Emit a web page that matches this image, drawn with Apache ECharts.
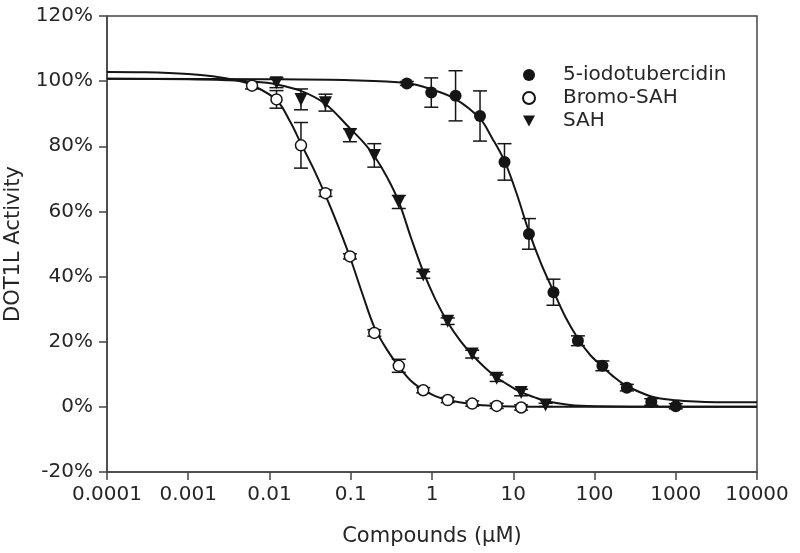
<!DOCTYPE html>
<html>
<head>
<meta charset="utf-8">
<script src="https://cdn.jsdelivr.net/npm/echarts@6/dist/echarts.min.js"></script>
<style>html,body{margin:0;padding:0;background:#fff}#c{width:800px;height:553px}</style>
</head>
<body>
<div id="c"></div>
<script>
// ---- data ----
const xTickLabels = ['0.0001','0.001','0.01','0.1','1','10','100','1000','10000'];

const iodoConc = [0.49, 0.98, 1.95, 3.9, 7.8, 15.6, 31.25, 62.5, 125, 250, 500, 1000];
const iodoAct  = [99.3, 96.5, 95.5, 89.3, 75.2, 53.1, 35.2, 20.3, 12.6, 5.9, 1.5, 0.2];
const iodoErr  = [0.6, 4.5, 7.7, 7.7, 5.6, 4.7, 4.0, 1.5, 1.5, 1.0, 1.0, 0.8];

const bromoConc = [0.0061, 0.0122, 0.0244, 0.0488, 0.0977, 0.195, 0.39, 0.78, 1.56, 3.125, 6.25, 12.5];
const bromoAct  = [98.6, 94.4, 80.3, 65.6, 46.2, 22.7, 12.6, 5.1, 2.1, 1.0, 0.3, -0.2];
const bromoErr  = [1.0, 2.7, 7.0, 1.0, 0.8, 1.0, 2.0, 0.8, 0.8, 0.8, 0.8, 0.8];

const sahConc = [0.0122, 0.0244, 0.0488, 0.0977, 0.195, 0.39, 0.78, 1.56, 3.125, 6.25, 12.5, 25];
const sahAct  = [99.5, 94.4, 93.4, 83.4, 77.2, 62.9, 40.5, 26.3, 16.2, 8.8, 4.4, 0.6];
const sahErr  = [1.5, 3.2, 2.6, 2.0, 3.6, 2.0, 1.0, 1.0, 1.2, 1.0, 1.0, 0.5];

// fitted curves
const iodoCurveX = [0.0001, 0.01, 0.1, 0.49, 0.98, 1.95, 3.9, 5.5, 7.8, 11, 15.6, 22, 31.25, 44, 62.5, 88, 125, 177, 250, 500, 1000, 2000, 4000, 10000];
const iodoCurveY = [100.7, 100.6, 100.3, 99.4, 97.5, 94.5, 88.5, 82.5, 75.5, 65.5, 53.8, 44, 35.5, 27.5, 21, 16, 12.4, 9, 6.4, 3.2, 2.0, 1.6, 1.45, 1.4];

const bromoCurveX = [0.0001, 0.0003, 0.001, 0.002, 0.004, 0.0061, 0.0122, 0.018, 0.0244, 0.035, 0.0488, 0.07, 0.0977, 0.14, 0.195, 0.28, 0.39, 0.55, 0.78, 1.1, 1.56, 3.125, 6.25, 12.5, 30, 100, 10000];
const bromoCurveY = [102.8, 102.7, 102.2, 101.5, 100.2, 98.8, 94.2, 87.5, 80.8, 73, 65, 55.5, 46, 34.5, 24.5, 17.5, 12.4, 8, 5.2, 3.3, 2.1, 0.8, 0.25, 0.05, 0, 0, 0];

const sahCurveX = [0.0001, 0.001, 0.003, 0.0061, 0.0122, 0.0244, 0.0488, 0.0977, 0.14, 0.195, 0.28, 0.39, 0.55, 0.78, 1.1, 1.56, 2.2, 3.125, 4.5, 6.25, 9, 12.5, 18, 25, 50, 100, 1000, 10000];
const sahCurveY = [100.7, 100.6, 100.3, 99.9, 99, 97, 93, 85.5, 81.5, 77, 70.5, 63, 52, 41.5, 33, 26, 20.5, 16, 12, 9, 6.5, 4.5, 3, 1.8, 0.6, 0.2, 0, 0];

// ---- build ----
const zip = (a, b) => a.map((v, i) => [v, b[i]]);
const zip3 = (a, b, c) => a.map((v, i) => [v, b[i], c[i]]);
const ink = '#151515';
const txt = '#262626';
const FONT = 'DejaVu Sans';

function errSeries(name, conc, act, err) {
  return {
    name: name, type: 'custom', z: 3,
    data: zip3(conc, act, err),
    renderItem: function (params, api) {
      const x = api.value(0), y = api.value(1), e = api.value(2);
      const top = api.coord([x, y + e]);
      const bot = api.coord([x, y - e]);
      const hw = 7;
      const st = { stroke: ink, lineWidth: 1.5, fill: null };
      return { type: 'group', children: [
        { type: 'line', shape: { x1: top[0], y1: top[1], x2: bot[0], y2: bot[1] }, style: st },
        { type: 'line', shape: { x1: top[0] - hw, y1: top[1], x2: top[0] + hw, y2: top[1] }, style: st },
        { type: 'line', shape: { x1: bot[0] - hw, y1: bot[1], x2: bot[0] + hw, y2: bot[1] }, style: st }
      ]};
    },
    silent: true
  };
}
function curve(name, xs, ys) {
  return { name: name, type: 'line', data: zip(xs, ys), smooth: 0.35, showSymbol: false, symbol: 'none',
    lineStyle: { color: ink, width: 2 }, z: 2, silent: true, animation: false };
}

const chart = echarts.init(document.getElementById('c'), null, { renderer: 'canvas' });
chart.setOption({
  animation: false,
  backgroundColor: '#fff',
  textStyle: { fontFamily: FONT },
  grid: { left: 107, right: 43, top: 16, bottom: 81, outerBoundsMode: 'none', containLabel: false,
    show: true, borderColor: '#444', borderWidth: 1.5, backgroundColor: 'transparent' },
  legend: {
    orient: 'vertical', left: 517, top: 60, itemWidth: 12, itemHeight: 12, itemGap: 3,
    textStyle: { fontFamily: FONT, fontSize: 20, color: txt, padding: [0, 0, 0, 23], lineHeight: 20 },
    selectedMode: false,
    data: [
      { name: '5-iodotubercidin', icon: 'circle', itemStyle: { color: ink, opacity: 1 } },
      { name: 'Bromo-SAH', icon: 'circle', itemStyle: { color: '#fff', borderColor: ink, borderWidth: 2, opacity: 1 } },
      { name: 'SAH', icon: 'path://M0,0L10,0L5,9Z', itemStyle: { color: ink, opacity: 1 } }
    ]
  },
  xAxis: {
    type: 'log', logBase: 10, min: 0.0001, max: 10000, splitNumber: 8,
    name: 'Compounds (µM)', nameLocation: 'middle', nameGap: 54,
    nameTextStyle: { fontFamily: FONT, fontSize: 21, color: txt },
    axisLine: { show: true, onZero: false, lineStyle: { color: '#444', width: 1.5 } },
    axisTick: { show: true, inside: false, length: 8, lineStyle: { color: '#444', width: 1.5 } },
    minorTick: { show: false },
    splitLine: { show: false },
    axisLabel: { fontFamily: FONT, fontSize: 20, color: txt, margin: 13,
      formatter: v => xTickLabels[Math.round(Math.log10(v)) + 4] }
  },
  yAxis: {
    type: 'value', min: -20, max: 120, interval: 20,
    name: 'DOT1L Activity', nameLocation: 'middle', nameGap: 83,
    nameTextStyle: { fontFamily: FONT, fontSize: 21, color: txt },
    axisLine: { show: true, onZero: false, lineStyle: { color: '#444', width: 1.5 } },
    axisTick: { show: true, inside: false, length: 8, lineStyle: { color: '#444', width: 1.5 } },
    splitLine: { show: false },
    axisLabel: { fontFamily: FONT, fontSize: 20, color: txt, margin: 14, formatter: '{value}%' }
  },
  series: [
    curve('iodoFit', iodoCurveX, iodoCurveY),
    curve('bromoFit', bromoCurveX, bromoCurveY),
    curve('sahFit', sahCurveX, sahCurveY),
    errSeries('iodoErr', iodoConc, iodoAct, iodoErr),
    errSeries('bromoErr', bromoConc, bromoAct, bromoErr),
    errSeries('sahErr', sahConc, sahAct, sahErr),
    { name: '5-iodotubercidin', type: 'scatter', data: zip(iodoConc, iodoAct), symbol: 'circle', symbolSize: 12,
      itemStyle: { color: ink, opacity: 1 }, z: 4 },
    { name: 'Bromo-SAH', type: 'scatter', data: zip(bromoConc, bromoAct), symbol: 'circle', symbolSize: 11,
      itemStyle: { color: '#fff', borderColor: ink, borderWidth: 1.5, opacity: 1 }, z: 4 },
    { name: 'SAH', type: 'scatter', data: zip(sahConc, sahAct), symbol: 'triangle', symbolRotate: 180, symbolSize: 13,
      itemStyle: { color: ink, opacity: 1 }, z: 4 }
  ]
});
</script>
</body>
</html>
